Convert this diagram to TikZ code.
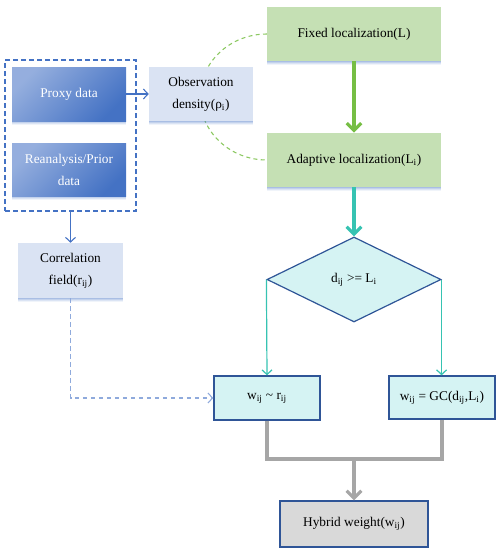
\documentclass[tikz,border=0pt]{standalone}
\usepackage{fontspec}
\setmainfont{Liberation Serif}
\usetikzlibrary{arrows.meta,shapes.geometric,shadows}
\definecolor{bluedark}{HTML}{4472C4}
\definecolor{bluelight}{HTML}{8FAADC}
\definecolor{paleblue}{HTML}{DAE3F3}
\definecolor{palegreen}{HTML}{C5E0B4}
\definecolor{greenarrow}{HTML}{76BE44}
\definecolor{tealarrow}{HTML}{36C3B2}
\definecolor{palecyan}{HTML}{D5F3F3}
\definecolor{navy}{HTML}{2F5597}
\definecolor{grayarrow}{HTML}{A6A6A6}
\definecolor{grayfill}{HTML}{D9D9D9}
\newcommand\sbs[1]{\textsubscript{#1}}
\begin{document}
\begin{tikzpicture}[x=0.75pt,y=-0.75pt,
  box/.style={rectangle, inner sep=0pt, align=center, font=\fontsize{10}{16.5}\selectfont, text=black},
  shad/.style={drop shadow={shadow xshift=0pt, shadow yshift=-3.2pt, fill=bluedark, opacity=0.08},
               drop shadow={shadow xshift=0pt, shadow yshift=-2.4pt, fill=bluedark, opacity=0.12},
               drop shadow={shadow xshift=0pt, shadow yshift=-1.6pt, fill=bluedark, opacity=0.16},
               drop shadow={shadow xshift=0pt, shadow yshift=-0.8pt, fill=bluedark, opacity=0.2}},
  gradbox/.style={box, top color=bluelight!95!white, bottom color=bluedark, shading angle=45, text=white, shad},
  lightbox/.style={box, fill=paleblue, shad},
  greenbox/.style={box, fill=palegreen, shad},
  cyanbox/.style={box, fill=palecyan, draw=navy, line width=1pt},
  thinblue/.style={draw=bluedark, line width=0.8pt, -{Straight Barb[length=3.5pt,width=7.5pt]}},
  dashblue/.style={draw=bluelight, line width=0.8pt, dash pattern=on 3.5pt off 2.5pt, -{Straight Barb[length=3.5pt,width=7.5pt]}},
  thickgreen/.style={draw=greenarrow, line width=2.4pt, -{Straight Barb[length=5.5pt,width=11pt]}},
  thickteal/.style={draw=tealarrow, line width=2.4pt, -{Straight Barb[length=5.5pt,width=11pt]}},
  thinteal/.style={draw=tealarrow, line width=0.9pt, -{Straight Barb[length=3.5pt,width=7.5pt]}},
  thickgray/.style={draw=grayarrow, line width=2.4pt},
  greendash/.style={draw=greenarrow!85!white, line width=0.8pt, dash pattern=on 3pt off 2.5pt}
]
\useasboundingbox (0,0) rectangle (500,553);

% dashed green arc (behind)
\coordinate (fw) at (267,34);
\draw[greendash] (fw) arc[start angle=270, end angle=90, x radius=67, y radius=63];

% left group
\node[draw=bluedark, line width=0.9pt, dash pattern=on 3.5pt off 2.5pt, minimum width=98.25pt, minimum height=113.25pt, inner sep=0pt] (group) at (70.5,135.5) {};
\node[gradbox, minimum width=85.5pt, minimum height=40.5pt] (proxy) at (69,94) {Proxy data};
\node[gradbox, minimum width=85.5pt, minimum height=39.75pt] (rean) at (69,169.5) {Reanalysis/Prior\\data};

\node[lightbox, minimum width=78pt, minimum height=40.5pt] (obs) at (201,94) {Observation\\density(ρ\sbs{i})};
\node[lightbox, minimum width=78.75pt, minimum height=41.25pt] (corr) at (70.5,270.5) {Correlation\\field(r\sbs{ij})};

\node[greenbox, minimum width=130.5pt, minimum height=40.5pt] (fixed) at (354,34) {Fixed localization(L)};
\node[greenbox, minimum width=130.5pt, minimum height=40.5pt] (adapt) at (354,160) {Adaptive localization(L\sbs{i})};

\node[diamond, aspect=2, inner sep=0pt, minimum width=130.5pt, minimum height=63.75pt, fill=palecyan, draw=navy, line width=0.9pt, font=\fontsize{10}{12}\selectfont] (dia) at (354,279.5) {d\sbs{ij} >= L\sbs{i}};

\node[cyanbox, minimum width=79.5pt, minimum height=33pt] (wr) at (267,398) {\raisebox{-2pt}{w\sbs{ij} \textasciitilde{} r\sbs{ij}}};
\node[cyanbox, minimum width=79.5pt, minimum height=32.25pt] (gc) at (442,397.5) {w\sbs{ij} = GC(d\sbs{ij},L\sbs{i})};
\node[box, fill=grayfill, draw=navy, line width=1pt, minimum width=111pt, minimum height=34.5pt] (hyb) at (354,524) {Hybrid weight(w\sbs{ij})};

% connectors
\draw[thinblue] (proxy.east) -- (obs.west);
\draw[thinblue] (group.south) -- (corr.north);
\draw[thickgreen] (fixed.south) -- (adapt.north);
\draw[thickteal] (adapt.south) -- (dia.north);
\draw[thinteal] (dia.west) -- (wr.north);
\draw[thinteal] (dia.east) -- (dia.east |- gc.north);
\draw[dashblue] (corr.south) |- (wr.west);
\coordinate (j) at (354,459);
\draw[thickgray] (wr.south) |- (j) -| (gc.south);
\draw[thickgray, -{Straight Barb[length=5.5pt,width=11pt]}] (j) -- (hyb.north);
\end{tikzpicture}
\end{document}
